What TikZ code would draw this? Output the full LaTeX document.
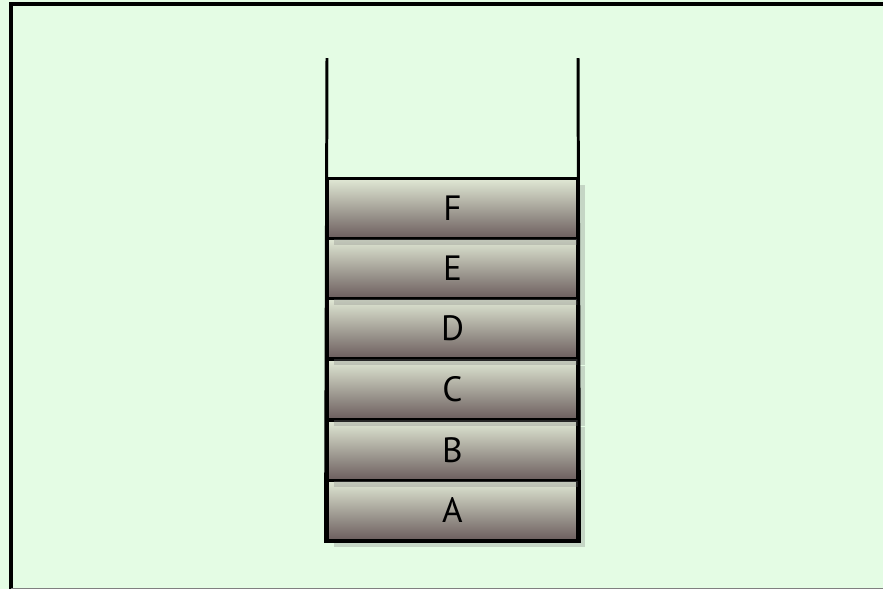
\documentclass[tikz,border=0pt]{standalone}
\usepackage{fontspec}
\setmainfont{PT Sans}
\usetikzlibrary{shadows}
\definecolor{paper}{RGB}{228,252,228}
\definecolor{boxtop}{RGB}{226,234,214}
\definecolor{boxbot}{RGB}{108,94,94}
\begin{document}
\begin{tikzpicture}[x=0.02cm,y=-0.02cm,
		stackbox/.style={rectangle,draw=black,line width=1.7pt,top color=boxtop,bottom color=boxbot,
			minimum width=5.02cm,minimum height=1.2cm,inner sep=0,font=\fontsize{20}{20}\selectfont,
			drop shadow={opacity=0.3,shadow xshift=4pt,shadow yshift=-4pt}}]
		\useasboundingbox (0,0) rectangle (883,589);
		\fill[paper] (0,0) rectangle (883,589);
		\draw[line width=2.2pt] (11,589) -- (11,4) -- (883,4);
		\draw[gray,line width=1pt] (11,588.5) -- (883,588.5);
		\foreach \l/\y in {A/510,B/450,C/389,D/328,E/268,F/208}
			\node[stackbox] (block\l) at (452.5,\y) {\l};
		\coordinate (wallL) at (327,58);
		\coordinate (wallR) at (578,58);
		\draw[line width=1.7pt] (wallL) -- (blockA.south west) -- (blockA.south east) -- (wallR);
	\end{tikzpicture}
\end{document}
